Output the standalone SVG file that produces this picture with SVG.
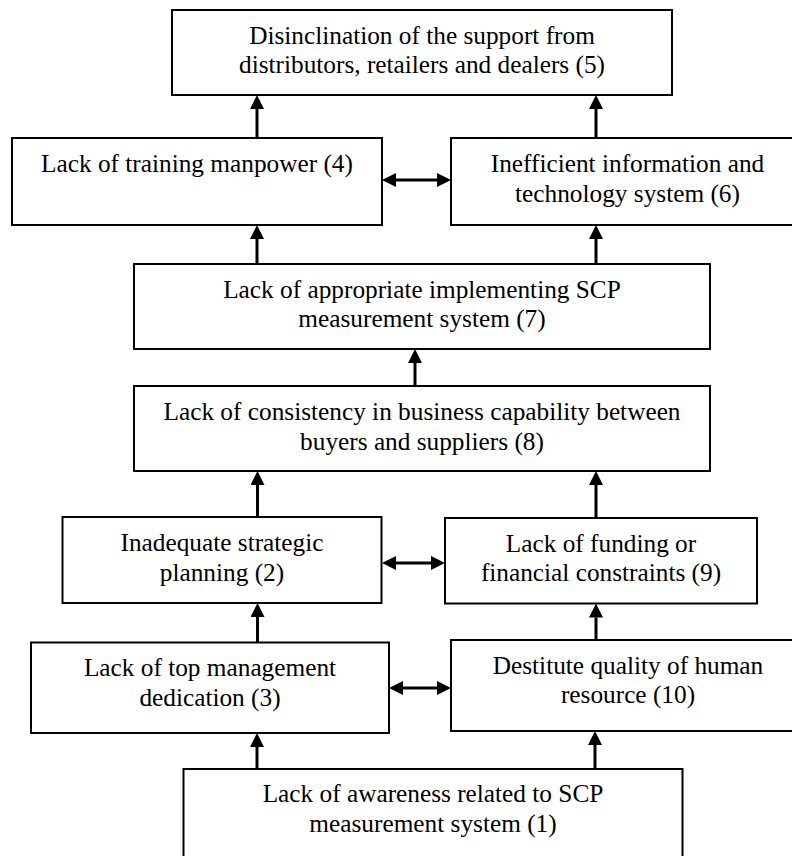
<svg xmlns="http://www.w3.org/2000/svg" width="792" height="856" viewBox="0 0 792 856">
<style>
  .box { fill: #ffffff; stroke: #000000; stroke-width: 2; }
  text { font-family: 'Liberation Serif', 'DejaVu Serif', serif; font-size: 25.3px; fill: #000000; text-anchor: middle; }
  .c { stroke: #000000; stroke-width: 3; fill: none; marker-end: url(#ah); }
  .d { stroke: #000000; stroke-width: 3; fill: none; marker-end: url(#ah); marker-start: url(#ah); }
</style>
<defs>
  <marker id="ah" viewBox="0 0 14 14" refX="0" refY="7" markerWidth="14" markerHeight="14" markerUnits="userSpaceOnUse" orient="auto-start-reverse">
    <path d="M0,0 L14,7 L0,14 Z" fill="#000000"/>
  </marker>
</defs>
<rect width="792" height="856" fill="#ffffff"/>

<g id="n5" font-family="Liberation Serif, serif">
  <rect class="box" x="172" y="10" width="500" height="85"/>
  <text x="422" y="43.5">Disinclination of the support from</text>
  <text x="422" y="73">distributors, retailers and dealers (5)</text>
</g>
<g id="n4" font-family="Liberation Serif, serif">
  <rect class="box" x="12" y="138" width="370" height="87"/>
  <text x="197" y="172">Lack of training manpower (4)</text>
</g>
<g id="n6" font-family="Liberation Serif, serif">
  <rect class="box" x="451" y="138" width="354" height="87"/>
  <text x="627.5" y="172">Inefficient information and</text>
  <text x="627.5" y="201.5">technology system (6)</text>
</g>
<g id="n7" font-family="Liberation Serif, serif">
  <rect class="box" x="134" y="264" width="576" height="85"/>
  <text x="422" y="297.5">Lack of appropriate implementing SCP</text>
  <text x="422" y="326.5">measurement system (7)</text>
</g>
<g id="n8" font-family="Liberation Serif, serif">
  <rect class="box" x="134" y="386" width="576" height="85"/>
  <text x="422" y="420">Lack of consistency in business capability between</text>
  <text x="422" y="449.5">buyers and suppliers (8)</text>
</g>
<g id="n2" font-family="Liberation Serif, serif">
  <rect class="box" x="62.5" y="517" width="319" height="86"/>
  <text x="222" y="551">Inadequate strategic</text>
  <text x="222" y="580.5">planning (2)</text>
</g>
<g id="n9" font-family="Liberation Serif, serif">
  <rect class="box" x="445" y="518" width="312" height="85.5"/>
  <text x="601" y="552">Lack of funding or</text>
  <text x="601" y="581">financial constraints (9)</text>
</g>
<g id="n3" font-family="Liberation Serif, serif">
  <rect class="box" x="31" y="642.5" width="358" height="90.5"/>
  <text x="210" y="676">Lack of top management</text>
  <text x="210" y="705.5">dedication (3)</text>
</g>
<g id="n10" font-family="Liberation Serif, serif">
  <rect class="box" x="451" y="640" width="354" height="91"/>
  <text x="628" y="674">Destitute quality of human</text>
  <text x="628" y="703">resource (10)</text>
</g>
<g id="n1" font-family="Liberation Serif, serif">
  <rect class="box" x="183.5" y="769" width="499" height="100"/>
  <text x="433" y="802">Lack of awareness related to SCP</text>
  <text x="433" y="831.5">measurement system (1)</text>
</g>

<g id="connectors">
  <line class="c" x1="257" y1="138" x2="257" y2="109"/>
  <line class="c" x1="596" y1="138" x2="596" y2="109"/>
  <line class="d" x1="396" y1="180" x2="437" y2="180"/>
  <line class="c" x1="257" y1="264" x2="257" y2="239"/>
  <line class="c" x1="596" y1="264" x2="596" y2="239"/>
  <line class="c" x1="415" y1="386" x2="415" y2="363"/>
  <line class="c" x1="257.5" y1="517" x2="257.5" y2="485"/>
  <line class="c" x1="596" y1="518" x2="596" y2="485"/>
  <line class="d" x1="396" y1="563" x2="431" y2="563"/>
  <line class="c" x1="257.5" y1="642.5" x2="257.5" y2="617"/>
  <line class="c" x1="596" y1="640" x2="596" y2="617.5"/>
  <line class="d" x1="403" y1="688" x2="437" y2="688"/>
  <line class="c" x1="257" y1="769" x2="257" y2="747"/>
  <line class="c" x1="595" y1="769" x2="595" y2="745"/>
</g>
</svg>
